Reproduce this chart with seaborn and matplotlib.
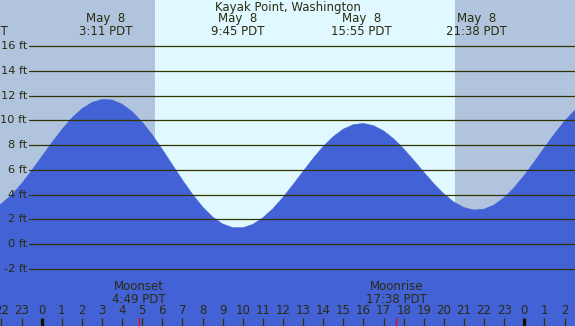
import numpy as np
import pandas as pd
import matplotlib
matplotlib.use("Agg")
import matplotlib.pyplot as plt
import matplotlib.transforms as mtransforms
import seaborn as sns

# tide heights (ft) read every half hour, hours relative to May 8 00:00
hours = np.arange(-3, 27.01, 0.5)
heights = [2.61, 2.80, 3.27, 3.98, 4.89, 5.94,
           7.06, 8.19, 9.25, 10.19, 10.93, 11.44, 11.68, 11.64, 11.30, 10.70,
           9.85, 8.82, 7.65, 6.41, 5.18, 4.03, 3.01, 2.20, 1.63, 1.34,
           1.33, 1.60, 2.13, 2.87, 3.78, 4.81, 5.88, 6.93, 7.89, 8.69,
           9.29, 9.65, 9.75, 9.57, 9.15, 8.51, 7.70, 6.78, 5.82, 4.89,
           4.06, 3.40, 2.96, 2.76, 2.83, 3.17, 3.77, 4.58, 5.57, 6.66,
           7.80, 8.91, 9.93, 10.79, 11.45]

# extremes labels at the top
ext_times = [-3.22, 3.183, 9.75, 15.917, 21.633]
ext_labels = ["May  7\n20:54 PDT", "May  8\n3:11 PDT", "May  8\n9:45 PDT",
              "May  8\n15:55 PDT", "May  8\n21:38 PDT"]

sunrise, sunset = 5.63, 20.55
moon_times = [4.817, 17.633]
moon_labels = ["Moonset\n4:49 PDT", "Moonrise\n17:38 PDT"]

y_ticks = [16, 14, 12, 10, 8, 6, 4, 2, 0, -2]
hour_ticks = list(range(-2, 27))

title = "Kayak Point, Washington"

df = pd.DataFrame({"hour": hours, "height": heights})

night_c = "#b0c4de"
day_c = "#e0f8ff"
water_c = "#4262d6"
line_c = "#333300"
text_c = "#2b2b10"

sns.set_style("white")
plt.rcParams["font.family"] = ["DejaVu Sans"]

fig = plt.figure(figsize=(5.75, 3.26), dpi=100)
ax = fig.add_axes([0, 0, 1, 1])
x0, x1 = -2.074, 26.52
y0, y1 = -6.60, 19.71
ax.set_xlim(x0, x1)
ax.set_ylim(y0, y1)
ax.axis("off")

# day / night background
ax.axvspan(x0, sunrise, color=night_c, zorder=0, lw=0)
ax.axvspan(sunrise, sunset, color=day_c, zorder=0, lw=0)
ax.axvspan(sunset, x1, color=night_c, zorder=0, lw=0)

# tide
ax.fill_between(df["hour"], y0 - 1, df["height"], color=water_c, lw=0, zorder=1)
sns.lineplot(data=df, x="hour", y="height", ax=ax, color=water_c, lw=0.4, zorder=2)

# grid lines and labels
for v in y_ticks:
    ax.axhline(v, xmin=29 / 575, xmax=1, color=line_c, lw=0.9, zorder=3)
    ax.text(x0 + 27 / 20.11, v, f"{v} ft", ha="right", va="center",
            fontsize=8.2, color=text_c, zorder=4)

trans = mtransforms.blended_transform_factory(ax.transData, ax.transAxes)

ax.text(0.5, 1 - 8 / 326, title, transform=ax.transAxes, ha="center",
        va="center", fontsize=8.5, color=text_c)
for t, lab in zip(ext_times, ext_labels):
    ax.text(t, 1 - 25 / 326, lab, transform=trans, ha="center", va="center",
            fontsize=8.5, color=text_c, linespacing=0.95)

for t, lab in zip(moon_times, moon_labels):
    ax.text(t, 33 / 326, lab, transform=trans, ha="center", va="center",
            fontsize=8.5, color=text_c, linespacing=0.95)
    ax.plot([t, t], [0, 8 / 326], transform=trans, color="red", lw=0.9, zorder=5)

for h in hour_ticks:
    ax.text(h, 15 / 326, str(h % 24), transform=trans, ha="center",
            va="center", fontsize=8.5, color=text_c)
    if h % 24 == 0:
        ax.plot([h, h], [0, 8 / 326], transform=trans, color="#111100",
                lw=2.4, zorder=5, solid_capstyle="butt")
    else:
        ax.plot([h, h], [0, 8 / 326], transform=trans, color=line_c,
                lw=0.9, zorder=5, solid_capstyle="butt")

fig.savefig("out.png", dpi=100)
